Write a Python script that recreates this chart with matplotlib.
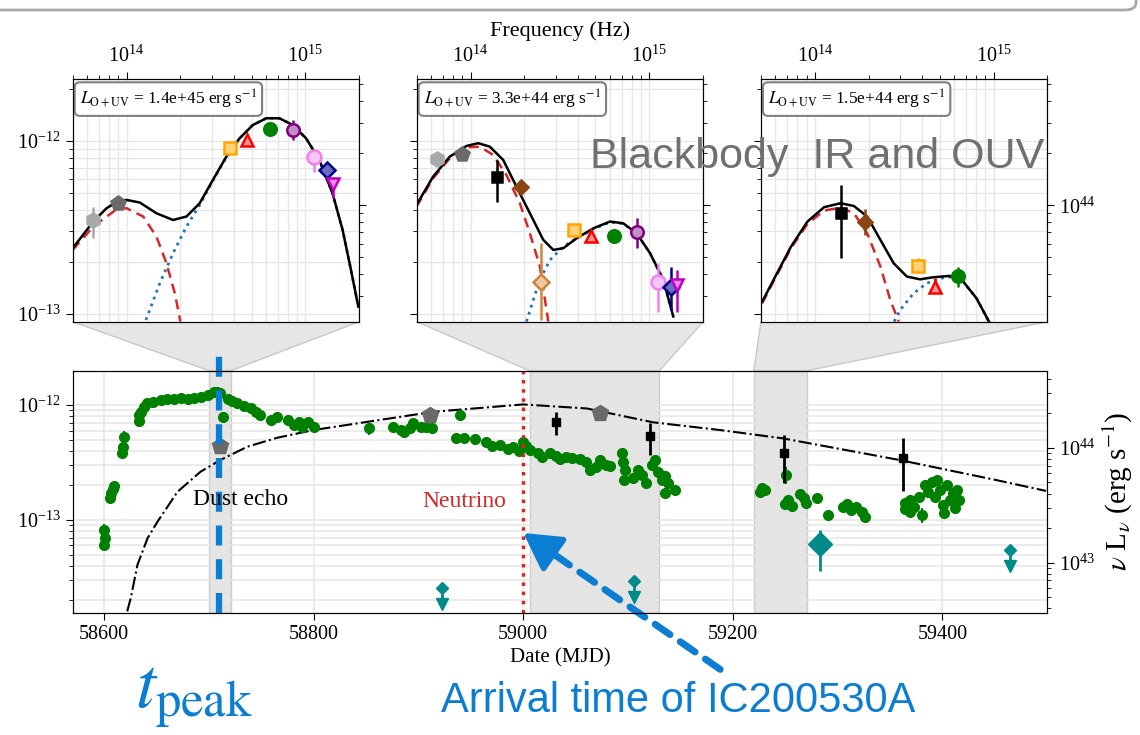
import numpy as np
import matplotlib
matplotlib.use('Agg')
import matplotlib.pyplot as plt
from matplotlib.patches import Polygon, FancyBboxPatch
from matplotlib.ticker import NullFormatter

plt.rcParams['font.family'] = ['Liberation Serif', 'DejaVu Serif']
plt.rcParams['mathtext.fontset'] = 'stix'
plt.rcParams['xtick.labelsize'] = 14.5
plt.rcParams['ytick.labelsize'] = 14.5
plt.rcParams['xtick.major.size'] = 5
plt.rcParams['ytick.major.size'] = 5
plt.rcParams['xtick.minor.size'] = 3
plt.rcParams['ytick.minor.size'] = 3

BLUE = '#0b7dd2'
GRIDC = '#e6e6e6'
CONV = 10**56.372  # nuFnu -> nuLnu

# ---------------- light curve data ----------------
green_mjd = [58600, 58601, 58600, 58606, 58607, 58608, 58609, 58617, 58618, 58619,
             58633, 58633, 58635, 58638, 58641, 58647, 58654, 58660, 58667, 58673,
             58680, 58686, 58692, 58699, 58705, 58708, 58711, 58713, 58718, 58722,
             58727, 58733, 58740, 58745, 58749, 58759, 58765, 58775, 58781, 58786,
             58789, 58795, 58800, 58853, 58876, 58883, 58886, 58892, 58895, 58902,
             58907, 58913, 58940, 58936, 58943, 58954, 58964, 58970, 58978, 58985,
             58990, 58996, 59000, 59003, 59006, 59014, 59018, 59026, 59031, 59035,
             59041, 59047, 59054, 59060, 59064, 59069, 59073, 59079, 59083, 59094,
             59095, 59097, 59096, 59105, 59110, 59113, 59117, 59123, 59126, 59129,
             59132, 59135, 59138, 59135, 59145, 59226, 59228, 59231, 59251, 59250,
             59253, 59257, 59264, 59268, 59270, 59280, 59291, 59305, 59309, 59313,
             59318, 59323, 59326, 59364, 59364, 59369, 59369, 59373, 59378, 59381,
             59383, 59386, 59390, 59393, 59395, 59398, 59401, 59404, 59407, 59410,
             59412, 59414, 59416, 59402]
green_flux13 = [0.82, 0.70, 0.61, 1.55, 1.72, 1.86, 1.98, 3.83, 4.31, 5.27,
                7.26, 8.18, 8.74, 9.6, 10.35, 10.7, 11.0, 11.3, 11.4, 11.5,
                11.3, 11.6, 11.8, 12.2, 12.9, 13.1, 12.7, 7.9, 11.4, 10.8,
                10.35, 9.8, 9.36, 8.7, 8.19, 7.4, 7.91, 7.4, 6.7, 7.16,
                6.47, 7.16, 6.47, 6.26, 6.47, 6.06, 5.86, 6.26, 6.93, 6.47,
                6.47, 6.26, 8.19, 5.2, 5.2, 5.06, 4.77, 4.4, 4.49, 4.14,
                4.3, 3.98, 4.77, 4.4, 4.06, 3.83, 3.53, 3.83, 3.6, 3.39,
                3.53, 3.45, 3.39, 3.19, 2.72, 2.89, 3.32, 3.0, 2.95, 3.83,
                3.19, 2.72, 2.23, 2.32, 2.72, 2.46, 2.1, 3.0, 3.32, 2.62,
                2.23, 2.4, 2.1, 1.72, 1.82, 1.75, 1.90, 1.82, 2.46, 1.38,
                1.49, 1.32, 1.68, 1.55, 1.41, 1.54, 1.10, 1.30, 1.38, 1.22,
                1.30, 1.17, 1.06, 1.41, 1.25, 1.49, 1.17, 1.30, 1.58, 1.10,
                2.02, 1.75, 2.14, 1.58, 2.23, 1.82, 1.35, 2.02, 1.49, 1.72,
                1.27, 1.82, 1.49, 1.16]
# green points with visible error bars
green_eb_mjd = [58600, 58619, 58713, 58853, 58940, 59251, 59381, 59378]
green_eb_lo13 = [0.55, 4.7, 7.0, 5.5, 7.4, 2.05, 0.95, 1.40]
green_eb_hi13 = [0.92, 5.9, 8.7, 7.0, 9.0, 2.9, 1.28, 1.75]

w1_mjd = [58711, 58911, 59073]
w1_flux = [4.42e-13, 8.19e-13, 8.47e-13]

ks_mjd = [59031, 59121, 59249, 59362]
ks_flux = [7.16e-13, 5.37e-13, 3.80e-13, 3.48e-13]
ks_lo = [5.48e-13, 3.67e-13, 2.1e-13, 1.79e-13]
ks_hi = [8.74e-13, 6.96e-13, 5.48e-13, 5.2e-13]

xray_ul_mjd = [58922.5, 59106, 59465]
xray_ul_flux = [2.57e-14, 2.95e-14, 5.5e-14]
xray_mjd = [59283.6]
xray_flux = [6.18e-14]
xray_lo = [3.57e-14]
xray_hi = [8.2e-14]

model_mjd = [58622, 58625.4, 58631.8, 58641.4, 58650.9, 58670, 58692, 58711, 58736.6,
             58765.2, 58800, 58914.4, 59000, 59060.6, 59124, 59187.6, 59248, 59359,
             59451, 59499]
model_flux = [1.6e-14, 2.09e-14, 4.07e-14, 6.93e-14, 9.66e-14, 1.76e-13, 2.63e-13,
              3.33e-13, 4.34e-13, 5.2e-13, 6.07e-13, 8.75e-13, 1.014e-12, 9.35e-13,
              7.08e-13, 6.07e-13, 5.13e-13, 3.33e-13, 2.23e-13, 1.79e-13]

SPANS = [(58700, 58721), (59006, 59130), (59220, 59271)]
T_PEAK = 58710
T_NU = 59000

# ---------------- SED data (log10 nu, log10 nuFnu) ----------------
BANDS = ['W2', 'W1', 'Ks', 'H', 'J', 'i', 'r', 'g', 'U', 'UVW1', 'UVM2', 'UVW2']
band_lognu = [13.81, 13.95, 14.148, 14.28, 14.394, 14.576, 14.672, 14.80, 14.93, 15.048, 15.122, 15.152]

ep1_bands = ['W2', 'W1', 'i', 'r', 'g', 'U', 'UVW1', 'UVM2', 'UVW2']
ep1_logf = [-12.457, -12.36, -12.042, -11.994, -11.933, -11.936, -12.094, -12.168, -12.25]
ep1_lo = [-12.563, -12.36, -12.055, -12.0, -11.933, -11.994, -12.177, -12.19, -12.331]
ep1_hi = [-12.38, -12.36, -12.03, -11.985, -11.933, -11.879, -12.062, -12.145, -12.206]

ep2_bands = ['W2', 'W1', 'Ks', 'H', 'J', 'i', 'r', 'g', 'U', 'UVW1', 'UVM2', 'UVW2']
ep2_logf = [-12.106, -12.075, -12.21, -12.268, -12.813, -12.514, -12.547, -12.549, -12.524, -12.813, -12.846, -12.832]
ep2_lo = [-12.106, -12.075, -12.351, -12.29, -13.035, -12.53, -12.56, -12.549, -12.62, -12.986, -12.977, -12.986]
ep2_hi = [-12.106, -12.075, -12.11, -12.245, -12.592, -12.495, -12.535, -12.549, -12.447, -12.707, -12.726, -12.746]

ep3_bands = ['Ks', 'H', 'i', 'r', 'g']
ep3_logf = [-12.414, -12.466, -12.721, -12.842, -12.78]
ep3_lo = [-12.678, -12.543, -12.765, -12.881, -12.842]
ep3_hi = [-12.254, -12.395, -12.678, -12.794, -12.726]

sed1_tot_lognu = [13.699, 13.814, 13.888, 13.954, 14.0, 14.074, 14.167, 14.26, 14.335, 14.409,
                  14.483, 14.558, 14.632, 14.706, 14.781, 14.855, 14.929, 15.004, 15.078, 15.152,
                  15.208, 15.255, 15.296]
sed1_tot_logf = [-12.62, -12.466, -12.389, -12.347, -12.341, -12.356, -12.418, -12.457, -12.437, -12.36,
                 -12.225, -12.091, -11.985, -11.908, -11.869, -11.869, -11.908, -11.985, -12.11, -12.303,
                 -12.514, -12.746, -12.958]
sed1_ir_lognu = [13.699, 13.814, 13.944, 14.0, 14.093, 14.167, 14.223, 14.270, 14.301]
sed1_ir_logf = [-12.63, -12.495, -12.395, -12.389, -12.437, -12.553, -12.707, -12.881, -13.044]
sed1_ouv_lognu = [14.108, 14.186, 14.26, 14.335, 14.409, 14.483, 14.558, 14.632, 14.706, 14.781,
                  14.855, 14.929, 15.004, 15.078, 15.152, 15.208, 15.255, 15.296]
sed1_ouv_logf = [-13.035, -12.823, -12.649, -12.495, -12.37, -12.23, -12.093, -11.986, -11.908, -11.869,
                 -11.869, -11.908, -11.985, -12.11, -12.303, -12.514, -12.746, -12.958]

sed2_tot_lognu = [13.698, 13.791, 13.884, 13.978, 14.043, 14.108, 14.183, 14.257, 14.332, 14.407,
                  14.463, 14.519, 14.593, 14.687, 14.78, 14.854, 14.929, 15.004, 15.078, 15.134]
sed2_tot_logf = [-12.37, -12.206, -12.091, -12.029, -12.013, -12.033, -12.11, -12.264, -12.418, -12.572,
                 -12.63, -12.62, -12.563, -12.505, -12.466, -12.476, -12.534, -12.649, -12.803, -13.015]
sed2_ir_lognu = [13.698, 13.791, 13.884, 13.978, 14.052, 14.127, 14.201, 14.276, 14.332, 14.388, 14.435]
sed2_ir_logf = [-12.38, -12.216, -12.1, -12.037, -12.033, -12.081, -12.197, -12.36, -12.534, -12.726, -13.044]
sed2_ouv_lognu = [14.313, 14.351, 14.388, 14.444, 14.519, 14.593, 14.687, 14.78, 14.854, 14.929,
                  15.004, 15.078, 15.134]
sed2_ouv_logf = [-13.044, -12.919, -12.803, -12.688, -12.611, -12.563, -12.51, -12.47, -12.478, -12.534,
                 -12.649, -12.803, -13.015]

sed3_tot_lognu = [13.706, 13.774, 13.867, 13.959, 14.052, 14.144, 14.219, 14.293, 14.367, 14.441,
                  14.515, 14.589, 14.663, 14.756, 14.83, 14.904, 14.974]
sed3_tot_logf = [-12.929, -12.794, -12.611, -12.466, -12.383, -12.36, -12.376, -12.437, -12.572, -12.707,
                 -12.784, -12.8, -12.788, -12.78, -12.813, -12.909, -13.044]
sed3_ir_lognu = [13.706, 13.774, 13.867, 13.959, 14.052, 14.144, 14.219, 14.293, 14.367, 14.422, 14.469]
sed3_ir_logf = [-12.938, -12.803, -12.62, -12.48, -12.403, -12.385, -12.418, -12.534, -12.726, -12.919, -13.044]
sed3_ouv_lognu = [14.444, 14.478, 14.552, 14.626, 14.7, 14.774, 14.83, 14.904, 14.974]
sed3_ouv_logf = [-13.044, -12.977, -12.881, -12.823, -12.794, -12.785, -12.813, -12.909, -13.044]

L_OUV = ['1.4e+45', '3.3e+44', '1.5e+44']

# marker style per band: marker, edge colour, face colour, size
BAND_STYLE = {
    'W2': ('h', '#a9a9a9', '#a9a9a9', 10),
    'W1': ('p', '#696969', '#696969', 10),
    'Ks': ('s', 'black', 'black', 7),
    'H': ('D', '#8b4513', '#8b4513', 7),
    'J': ('D', '#cd853f', '#f0c9a0', 8),
    'i': ('s', '#ffa500', '#ffd27a', 8),
    'r': ('^', '#ff0000', '#ff9a9a', 8),
    'g': ('o', '#008000', '#008000', 9),
    'U': ('o', '#800080', '#c38ec3', 9),
    'UVW1': ('o', '#ee82ee', '#f6c4f6', 10),
    'UVM2': ('D', '#00008b', '#6d6dc0', 8),
    'UVW2': ('v', '#c000c0', '#f08af0', 8),
}

# ---------------- figure ----------------
fig = plt.figure(figsize=(11.4, 7.35), dpi=100)

ax = fig.add_axes([0.0638, 0.1660, 0.8547, 0.3297])
ax.set_yscale('log')
ax.set_xlim(58570, 59500)
main_ylim = (10**-13.81, 10**-11.70)
ax.set_yticks([1e-13, 1e-12])
ax.set_ylim(*main_ylim)
ax.set_axisbelow(True)
ax.grid(True, which='both', axis='y', color=GRIDC, lw=1.1)
ax.grid(True, which='major', axis='x', color=GRIDC, lw=1.1)
ax.set_xticks([58600, 58800, 59000, 59200, 59400])

for x0, x1 in SPANS:
    ax.axvspan(x0, x1, fc='#d9d9d9', ec='#bdbdbd', alpha=0.7, lw=1, zorder=0.5)

ax.plot(model_mjd, model_flux, color='black', ls='-.', lw=1.5, zorder=2)
ax.plot(green_mjd, np.array(green_flux13) * 1e-13, 'o', color='green', ms=7, zorder=3)
ax.vlines(green_eb_mjd, np.array(green_eb_lo13) * 1e-13, np.array(green_eb_hi13) * 1e-13,
          color='green', lw=1.5, zorder=3)
ax.plot(w1_mjd, w1_flux, 'p', color='#696969', ms=12, zorder=4)
ax.errorbar(ks_mjd, ks_flux,
            yerr=[np.array(ks_flux) - np.array(ks_lo), np.array(ks_hi) - np.array(ks_flux)],
            fmt='s', color='black', ms=6, lw=2, capsize=0, zorder=4)
ax.errorbar(xray_mjd, xray_flux,
            yerr=[np.array(xray_flux) - np.array(xray_lo), np.array(xray_hi) - np.array(xray_flux)],
            fmt='D', color='#008b8b', ms=12, lw=2, capsize=0, zorder=4)
ul = np.array(xray_ul_flux)
ax.vlines(xray_ul_mjd, ul * 0.74, ul, color='#008b8b', lw=2, zorder=4)
ax.plot(xray_ul_mjd, ul, 'D', color='#008b8b', ms=6, zorder=4)
ax.plot(xray_ul_mjd, ul * 0.72, 'v', color='#008b8b', ms=9, zorder=4)

ax.axvline(T_NU, color='#d62728', ls=':', lw=2.5, zorder=5)
ax.plot([T_PEAK, T_PEAK], [0, 1.106], transform=ax.get_xaxis_transform(), clip_on=False,
        color=BLUE, lw=4.5, ls=(0, (3.2, 2.2)), solid_capstyle='butt', zorder=6)

ax.text(58730, 10**-12.826, 'Dust echo', fontsize=17, ha='center', va='center', zorder=7)
ax.text(58944, 10**-12.841, 'Neutrino', fontsize=17, ha='center', va='center', color='#d62728')
ax.set_xlabel('Date (MJD)', fontsize=15, labelpad=3)

axr = ax.twinx()
axr.set_yscale('log')
axr.set_yticks([1e43, 1e44])
axr.set_ylim(main_ylim[0] * CONV, main_ylim[1] * CONV)
axr.set_ylabel(r'$\nu$ L$_\nu$ (erg s$^{-1}$)', fontsize=21)

# arrow to neutrino arrival
tip = (T_NU, 7.7e-14)
tail = (59188, 5.0e-15)
ax.annotate('', xy=tip, xytext=tail, xycoords='data', annotation_clip=False,
            arrowprops=dict(arrowstyle='-', color=BLUE, lw=5, ls=(0, (2.6, 1.8)),
                            shrinkA=0, shrinkB=20), zorder=6)
ax.annotate('', xy=tip, xytext=(18, -12.5), textcoords='offset points', annotation_clip=False,
            arrowprops=dict(arrowstyle='-|>,head_length=0.75,head_width=0.42', color=BLUE,
                            lw=4, mutation_scale=30, shrinkA=0, shrinkB=0), zorder=6)

# ---------------- insets ----------------
sed_ylim = (10**-13.045, 10**-11.642)
inset_lefts = [0.0638, 0.3655, 0.6675]
seds = [
    (sed1_tot_lognu, sed1_tot_logf, sed1_ir_lognu, sed1_ir_logf, sed1_ouv_lognu, sed1_ouv_logf,
     ep1_bands, ep1_logf, ep1_lo, ep1_hi),
    (sed2_tot_lognu, sed2_tot_logf, sed2_ir_lognu, sed2_ir_logf, sed2_ouv_lognu, sed2_ouv_logf,
     ep2_bands, ep2_logf, ep2_lo, ep2_hi),
    (sed3_tot_lognu, sed3_tot_logf, sed3_ir_lognu, sed3_ir_logf, sed3_ouv_lognu, sed3_ouv_logf,
     ep3_bands, ep3_logf, ep3_lo, ep3_hi),
]
insets = []
for k, (left, sed) in enumerate(zip(inset_lefts, seds)):
    tn, tf, irn, irf, on, of, bands, lf, lo, hi = sed
    a = fig.add_axes([left, 0.5623, 0.2513, 0.3302])
    a.set_xscale('log')
    a.set_yscale('log')
    a.set_xticks([1e14, 1e15])
    a.set_yticks([1e-13, 1e-12])
    a.set_xlim(5e13, 2e15)
    a.set_ylim(*sed_ylim)
    a.set_axisbelow(True)
    a.grid(True, which='both', color=GRIDC, lw=1.0)
    a.xaxis.tick_top()
    a.plot(10**np.array(irn), 10**np.array(irf), color='#d62728', ls=(0, (4, 2.5)), lw=1.8, zorder=2)
    a.plot(10**np.array(on), 10**np.array(of), color='#1f77b4', ls=':', lw=2, zorder=2)
    a.plot(10**np.array(tn), 10**np.array(tf), color='black', lw=1.8, zorder=3)
    for b, f, l, h in zip(bands, lf, lo, hi):
        mk, ec, fc, ms = BAND_STYLE[b]
        nu = 10**band_lognu[BANDS.index(b)]
        if h > l:
            a.vlines(nu, 10**l, 10**h, color=ec, lw=1.8, zorder=4)
        a.plot(nu, 10**f, mk, mec=ec, mfc=fc, mew=1.8, ms=ms, zorder=5)
    a.text(0.025, 0.965, r'$L_{\rm O+UV}$ = ' + L_OUV[k] + r' erg s$^{-1}$', transform=a.transAxes,
           fontsize=12.5, va='top', ha='left',
           bbox=dict(boxstyle='round,pad=0.3', fc='white', ec='#808080', lw=1.5))
    if k > 0:
        a.yaxis.set_major_formatter(NullFormatter())
        a.yaxis.set_minor_formatter(NullFormatter())
    ar = a.twinx()
    ar.set_yscale('log')
    ar.set_yticks([1e44])
    ar.set_ylim(sed_ylim[0] * CONV, sed_ylim[1] * CONV)
    if k < 2:
        ar.yaxis.set_major_formatter(NullFormatter())
        ar.yaxis.set_minor_formatter(NullFormatter())
    insets.append(a)

insets[1].xaxis.set_label_position('top')
insets[1].set_xlabel('Frequency (Hz)', fontsize=16, labelpad=7)

# connector polygons between insets and shaded spans
inv = fig.transFigure.inverted()
for a, (x0, x1) in zip(insets, SPANS):
    bl = inv.transform(a.transAxes.transform((0, 0)))
    br = inv.transform(a.transAxes.transform((1, 0)))
    tl = inv.transform(ax.get_xaxis_transform().transform((x0, 1)))
    tr = inv.transform(ax.get_xaxis_transform().transform((x1, 1)))
    poly = Polygon([bl, br, tr, tl], closed=True, transform=fig.transFigure,
                   fc='#e6e6e6', ec='#c8c8c8', lw=1, zorder=-1)
    fig.add_artist(poly)

# annotations
fig.text(0.5175, 0.7864, 'Blackbody  IR and OUV', fontsize=31, color='#707070',
         family='Liberation Sans', va='center', ha='left')
fig.text(0.118, 0.038, r'$t_{\rm peak}$', fontsize=52, color=BLUE, va='baseline', ha='left')
fig.text(0.387, 0.0463, 'Arrival time of IC200530A', fontsize=30, color=BLUE,
         family='Liberation Sans', va='center', ha='left')

frame = FancyBboxPatch((-0.02, 1 - 10 / 735), 1.0165, 0.1, boxstyle='round,pad=0,rounding_size=0.01',
                       transform=fig.transFigure, ec='#a8a8a8', fc='none', lw=2, clip_on=False)
fig.add_artist(frame)

fig.savefig('out.png', dpi=100)
